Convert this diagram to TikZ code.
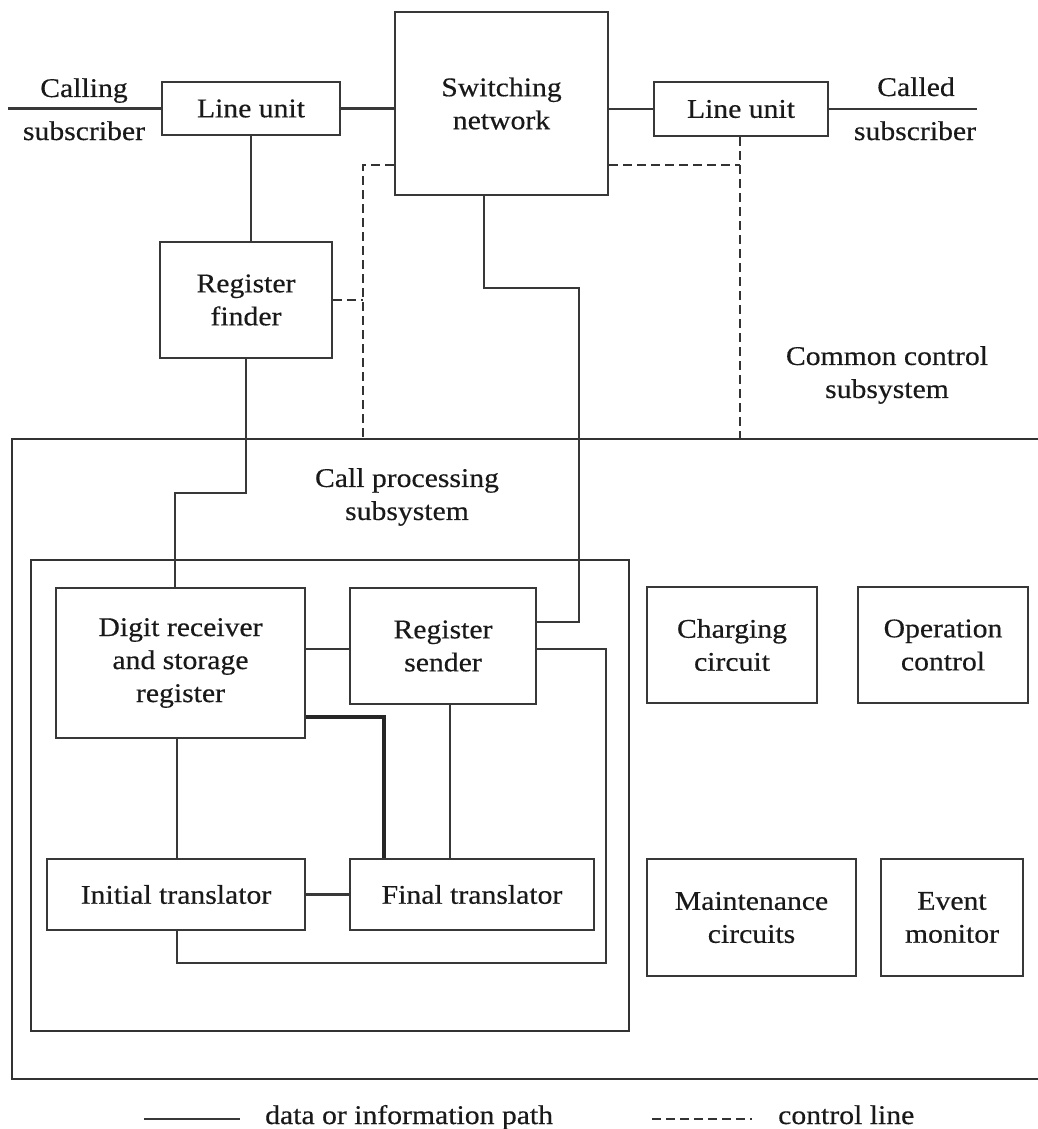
\documentclass[tikz,border=0pt]{standalone}
\usepackage{fontspec}
\setmainfont{Liberation Serif}[FakeStretch=1.1, FakeBold=0.4]
\usetikzlibrary{calc}
\begin{document}
\begin{tikzpicture}[x=1pt,y=-1pt,
  every node/.style={font=\fontsize{27}{33}\selectfont, text=black!90},
  bx/.style={draw=black!78, line width=2.8pt, align=center, inner sep=0pt, fill=white},
  wire/.style={draw=black!78, line width=2.4pt},
  heavy/.style={draw=black!85, line width=3.8pt},
  ctrl/.style={draw=black!80, line width=2.4pt, dash pattern=on 9pt off 5pt},
  frame/.style={draw=black!80, line width=2.8pt},
  lbl/.style={align=center, inner sep=0pt}]
\useasboundingbox[fill=white] (0,0) rectangle (1038,1129);

% subsystem frames
\draw[frame] (1045,439) -- (12,439) -- (12,1079) -- (1045,1079);
\draw[frame] (31,560) rectangle (629,1031);

% subscriber side
\node[bx, minimum width=178pt, minimum height=53pt] (lu1) at (251,108.5) {Line unit};
\node[bx, minimum width=213pt, minimum height=183pt] (sw) at (501.5,103.5) {Switching\\network};
\node[bx, minimum width=174pt, minimum height=54pt] (lu2) at (741,109) {Line unit};
\node[bx, minimum width=172pt, minimum height=116pt] (rf) at (246,300) {Register\\finder};

\node[lbl, anchor=base] (cg1) at (84,97) {Calling};
\node[lbl, anchor=base] (cg2) at (84,140) {subscriber};
\node[lbl, anchor=base] (cd1) at (916,96) {Called};
\node[lbl, anchor=base] (cd2) at (915,140) {subscriber};

\node[lbl] (ccs) at (887,375) {Common control\\subsystem};
\node[lbl] (cps) at (407,497) {Call processing\\subsystem};

% call processing blocks
\node[bx, minimum width=249pt, minimum height=150pt] (dr) at (180.5,663) {Digit receiver\\and storage\\register};
\node[bx, minimum width=186pt, minimum height=116pt] (rs) at (443,646) {Register\\sender};
\node[bx, minimum width=258pt, minimum height=71pt] (it) at (176,894.5) {Initial translator};
\node[bx, minimum width=244pt, minimum height=71pt] (ft) at (472,894.5) {Final translator};

% other common control blocks
\node[bx, minimum width=170pt, minimum height=116pt] (cc) at (732,645) {Charging\\circuit};
\node[bx, minimum width=170pt, minimum height=116pt] (oc) at (943,645) {Operation\\control};
\node[bx, minimum width=209pt, minimum height=117pt] (mc) at (751.5,917.5) {Maintenance\\circuits};
\node[bx, minimum width=142pt, minimum height=117pt] (em) at (952,917.5) {Event\\monitor};

% subscriber lines
\coordinate (cin) at (8,108.5);
\coordinate (cout) at (977,109);
\draw[wire] (cin) -- (lu1.west);
\draw[wire] (lu1.east) -- (lu1.east -| sw.west);
\draw[wire] (lu2.west -| sw.east) -- (lu2.west);
\draw[wire] (lu2.east) -- (cout);

% control lines
\coordinate (dl) at (363,165);
\coordinate (dlb) at (363,439);
\coordinate (dr2) at (740,165);
\coordinate (drb) at (740,439);
\draw[ctrl] (dl -| sw.west) -- (dl) -- (dlb);
\draw[ctrl] (rf.east) -- (rf.east -| dl);
\draw[ctrl] (dr2 -| sw.east) -- (dr2);
\draw[ctrl] (dr2 |- lu2.south) -- (drb);

% data paths
\coordinate (j1) at (175,493);
\coordinate (j2a) at (484,288);
\coordinate (j2) at (579,288);
\coordinate (j3) at (579,622);
\coordinate (j4) at (606,649);
\coordinate (j5) at (606,963);
\coordinate (j6) at (177,963);
\coordinate (j7) at (384,717);
\coordinate (j8) at (450,704);
\draw[wire] (lu1.south) -- (lu1.south |- rf.north);
\draw[wire] (rf.south) |- (j1) -- (j1 |- dr.north);
\draw[wire] (j2a |- sw.south) -- (j2a) -- (j2) -- (j3) -- (j3 -| rs.east);
\draw[wire] (dr.east |- j4) -- (rs.west |- j4);
\draw[wire] (rs.east |- j4) -- (j4) -- (j5) -- (j6) -- (j6 |- it.south);
\draw[wire] (j6 |- dr.south) -- (j6 |- it.north);
\draw[heavy] (j7 -| dr.east) -- (j7) -- (j7 |- ft.north);
\draw[wire] (j8 |- rs.south) -- (j8 |- ft.north);
\draw[wire] (it.east) -- (ft.west);

% legend
\coordinate (la) at (144,1119);
\coordinate (lb) at (240,1119);
\coordinate (lc) at (652,1119);
\coordinate (ld) at (752,1119);
\draw[wire, line width=2.8pt] (la) -- (lb);
\draw[ctrl, dash pattern=on 9pt off 5pt] (lc) -- (ld);
\node[lbl, anchor=base west] (lt1) at (265,1124) {data or information path};
\node[lbl, anchor=base west] (lt2) at (778,1124) {control line};
\end{tikzpicture}
\end{document}
